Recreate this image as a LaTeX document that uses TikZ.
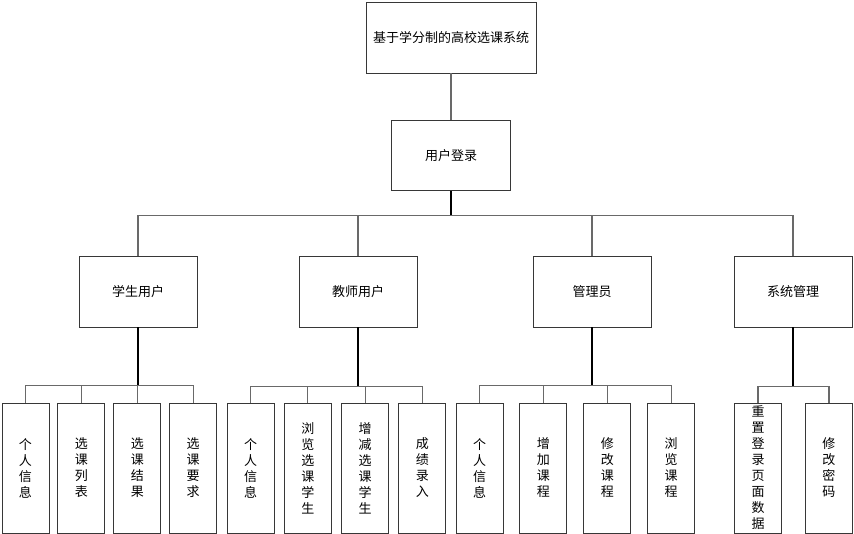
\documentclass[tikz,border=0pt]{standalone}
\usepackage{fontspec}
\newfontfamily\cjk{Noto Sans CJK SC}
\usetikzlibrary{positioning}
\definecolor{edge}{RGB}{55,55,55}
\definecolor{wire}{RGB}{105,105,105}
\tikzset{box/.style={draw=edge,line width=0.9pt,fill=white,align=center,inner sep=0pt,font=\cjk\fontsize{13}{16}\selectfont},head/.style={box,minimum width=118pt,minimum height=71pt},leaf/.style={box,text width=13pt,minimum width=47pt,minimum height=130pt},trunk/.style={draw=black,line width=1.4pt},link/.style={draw=wire,line width=1.2pt}}

\begin{document}
\begin{tikzpicture}[x=1pt,y=1pt]
\useasboundingbox (0,0) rectangle (854,-534);
\node[box,minimum width=170pt,minimum height=71pt] (sys) at (451,-37.5) {基于学分制的高校选课系统};
\node[box,minimum width=119pt,minimum height=70pt,below=47pt of sys] (login) {用户登录};
\node[head] (stu) at (138,-291.5) {学生用户};
\node[head] (tea) at (358,-291.5) {教师用户};
\node[head] (adm) at (592,-291.5) {管理员};
\node[head] (mgr) at (793,-291.5) {系统管理};
% 学生用户
\node[leaf] (s1) at (25.5,-468) {个\\人\\信\\息};
\node[leaf,right=8pt of s1] (s2) {选\\课\\列\\表};
\node[leaf,right=8pt of s2] (s3) {选\\课\\结\\果};
\node[leaf,right=8pt of s3] (s4) {选\\课\\要\\求};
% 教师用户
\node[leaf] (t1) at (250.5,-468) {个\\人\\信\\息};
\node[leaf,right=9.4pt of t1] (t2) {浏\\览\\选\\课\\学\\生};
\node[leaf,right=9.4pt of t2] (t3) {增\\减\\选\\课\\学\\生};
\node[leaf,right=9.4pt of t3] (t4) {成\\绩\\录\\入};
% 管理员
\node[leaf] (a1) at (479.5,-468) {个\\人\\信\\息};
\node[leaf,right=16pt of a1] (a2) {增\\加\\课\\程};
\node[leaf,right=16pt of a2] (a3) {修\\改\\课\\程};
\node[leaf,right=16pt of a3] (a4) {浏\\览\\课\\程};
% 系统管理
\node[leaf] (m1) at (758,-468) {重\\置\\登\\录\\页\\面\\数\\据};
\node[leaf,right=23pt of m1] (m2) {修\\改\\密\\码};
\draw[link] (sys)--(login);
\draw[trunk] (login.south)--++(0,-24) coordinate (b0);
\draw[link] (b0)-|(stu.north);\draw[link] (b0)-|(tea.north);\draw[link] (b0)-|(adm.north);\draw[link] (b0)-|(mgr.north);
\draw[trunk] (stu.south)--++(0,-58) coordinate (bs);
\draw[link] (bs)-|(s1.north);\draw[link] (bs)-|(s2.north);\draw[link] (bs)-|(s3.north);\draw[link] (bs)-|(s4.north);
\draw[trunk] (tea.south)--++(0,-59) coordinate (bt);
\draw[link] (bt)-|(t1.north);\draw[link] (bt)-|(t2.north);\draw[link] (bt)-|(t3.north);\draw[link] (bt)-|(t4.north);
\draw[trunk] (adm.south)--++(0,-58) coordinate (ba);
\draw[link] (ba)-|(a1.north);\draw[link] (ba)-|(a2.north);\draw[link] (ba)-|(a3.north);\draw[link] (ba)-|(a4.north);
\draw[trunk] (mgr.south)--++(0,-59) coordinate (bm);
\draw[link] (bm)-|(m1.north);\draw[link] (bm)-|(m2.north);
\end{tikzpicture}
\end{document}
